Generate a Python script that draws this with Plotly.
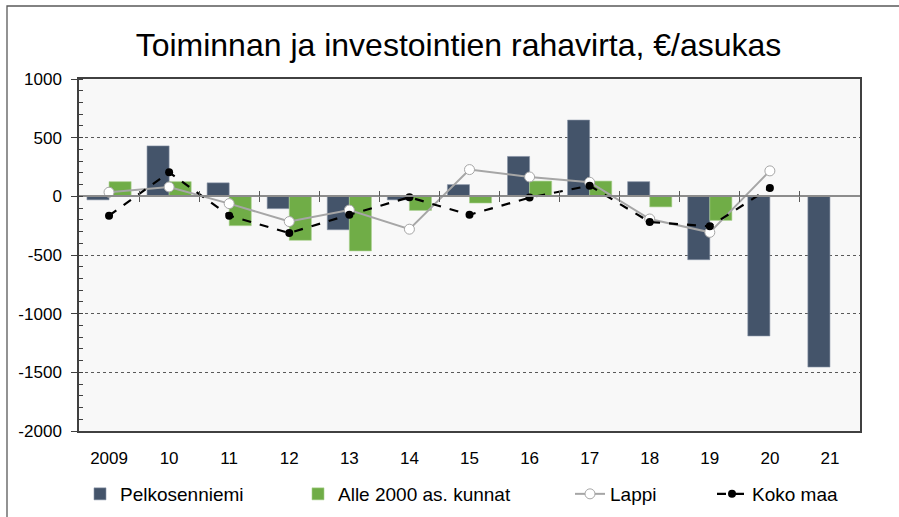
import plotly.graph_objects as go

years = ["2009", "10", "11", "12", "13", "14", "15", "16", "17", "18", "19", "20", "21"]
pelkosenniemi = [-30, 430, 115, -105, -285, -30, 100, 340, 650, 125, -540, -1190, -1455]
alle2000 = [125, 125, -250, -375, -465, -120, -57, 130, 130, -90, -205, 5, None]
lappi = [35, 80, -62, -215, -117, -280, 228, 165, 120, -193, -307, 217, None]
koko_maa = [-165, 205, -165, -313, -157, -8, -157, -11, 91, -219, -256, 72, None]
y_ticks = [1000, 500, 0, -500, -1000, -1500, -2000]
y_tick_text = ["1000", "500", "0", "-500", "-1000", "-1500", "-2000"]

xs = list(range(len(years)))
FONT = "Arial, Liberation Sans, sans-serif"
W, H = 899, 517

fig = go.Figure()
fig.add_trace(go.Bar(x=xs, y=pelkosenniemi, name="Pelkosenniemi",
                     marker=dict(color="#44546A", line=dict(color="#8a96a8", width=0.6)),
                     legend="legend"))
fig.add_trace(go.Bar(x=xs, y=alle2000, name="Alle 2000 as. kunnat",
                     marker=dict(color="#70AD47", line=dict(color="#a9d08e", width=0.6)),
                     legend="legend2"))
fig.add_trace(go.Scatter(x=xs, y=lappi, name="Lappi", mode="lines+markers",
                         line=dict(color="#A6A6A6", width=2),
                         marker=dict(symbol="circle", size=10, color="white",
                                     line=dict(color="#A6A6A6", width=1)),
                         legend="legend3"))
fig.add_trace(go.Scatter(x=xs, y=koko_maa, name="Koko maa", mode="lines+markers",
                         line=dict(color="black", width=2.2, dash="dash"),
                         marker=dict(symbol="circle", size=8, color="black"),
                         legend="legend4"))

rng = [-0.5, len(years) - 0.5]
boundaries = [i + 0.5 for i in range(len(years) - 1)]

def leg(px, py=494):
    return dict(orientation="h", xref="container", yref="container",
                x=px / W, xanchor="left", y=1 - py / H, yanchor="middle",
                bgcolor="rgba(0,0,0,0)", font=dict(size=19))

fig.update_layout(
    width=W, height=H,
    margin=dict(l=79, r=39, t=79, b=86, autoexpand=False),
    paper_bgcolor="white", plot_bgcolor="#F8F8F8",
    barmode="group", bargap=0.265, bargroupgap=0,
    font=dict(family=FONT, size=17, color="black"),
    title=dict(text="Toiminnan ja investointien rahavirta, €/asukas",
               x=0.51, xanchor="center", y=1 - 45 / H, yanchor="middle",
               font=dict(family=FONT, size=32, color="black")),
    xaxis=dict(range=rng, tickvals=xs, ticktext=years, showgrid=False, zeroline=False,
               showline=True, linecolor="#404040", linewidth=2, mirror=True,
               ticks="", ticklabelstandoff=11),
    xaxis2=dict(range=rng, overlaying="x", anchor="free", position=2000 / 3000,
                tickvals=boundaries, ticks="inside", ticklen=5, tickcolor="#595959",
                showticklabels=False, showgrid=False, zeroline=False,
                showline=True, linecolor="#8C8C8C", linewidth=1.5),
    xaxis3=dict(range=rng, overlaying="x", anchor="free", position=2000 / 3000,
                tickvals=boundaries, ticks="outside", ticklen=5, tickcolor="#595959",
                showticklabels=False, showgrid=False, zeroline=False, showline=False),
    yaxis=dict(range=[-2000, 1000], tickvals=y_ticks, ticktext=y_tick_text, showgrid=True,
               gridcolor="#595959", griddash="dot", gridwidth=1, zeroline=False,
               showline=True, linecolor="#404040", linewidth=1.5, mirror=True,
               ticks="outside", ticklen=6, tickcolor="#404040", ticklabelstandoff=6,
               minor=dict(dtick=100, ticks="inside", ticklen=4, tickcolor="#404040",
                          showgrid=False)),
    showlegend=True,
    legend=leg(80), legend2=leg(298), legend3=leg(570), legend4=leg(712),
    shapes=[dict(type="rect", xref="paper", yref="paper",
                 x0=(7 - 79) / 781, x1=(910 - 79) / 781,
                 y0=(431 - 530) / 352, y1=(431 - 6) / 352,
                 line=dict(color="#595959", width=1.3), fillcolor="rgba(0,0,0,0)",
                 layer="below")],
)
fig.add_trace(go.Scatter(x=[None], y=[None], xaxis="x2", showlegend=False, hoverinfo="skip"))
fig.add_trace(go.Scatter(x=[None], y=[None], xaxis="x3", showlegend=False, hoverinfo="skip"))

fig.write_html("out.html", config={"displayModeBar": False},
               post_script="document.body.style.margin='0';")
